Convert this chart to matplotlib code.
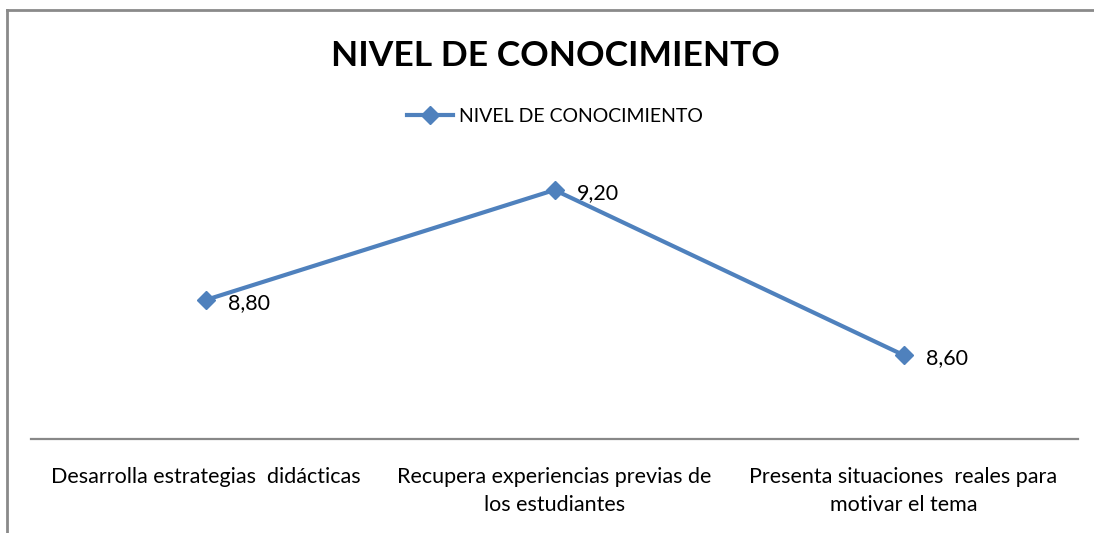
import matplotlib.pyplot as plt
from matplotlib.lines import Line2D

# Data
categories = ['Desarrolla estrategias  didácticas',
              'Recupera experiencias previas de\nlos estudiantes',
              'Presenta situaciones  reales para\nmotivar el tema']
values = [8.80, 9.20, 8.60]
series_name = 'NIVEL DE CONOCIMIENTO'

plt.rcParams['font.family'] = ['Lato', 'DejaVu Sans']

fig = plt.figure(figsize=(10.94, 5.33), dpi=100)
W, H = 1094, 533

# outer chart frame (top and left edges visible)
fig.add_artist(Line2D([7 / W, 7 / W], [0, 1 - 10 / H], transform=fig.transFigure,
                      color='#8a8a8a', lw=2))
fig.add_artist(Line2D([7 / W, 1], [1 - 10 / H, 1 - 10 / H], transform=fig.transFigure,
                      color='#8a8a8a', lw=2))

ax = fig.add_axes([31 / W, (H - 439) / H, (1078 - 31) / W, (439 - 160) / H])
x = range(len(values))
ax.plot(x, values, color='#4F81BD', lw=3.0, marker='D', markersize=9.5,
        label=series_name)

ax.set_xlim(-0.5, 2.5)
ax.set_ylim(8.295, 9.309)

for xi, v in zip(x, values):
    ax.annotate(f'{v:.2f}'.replace('.', ','), (xi, v), xytext=(16, -2),
                textcoords='offset points', ha='left', va='center', fontsize=15.5)

ax.set_xticks(list(x))
ax.set_xticklabels(categories, fontsize=15.5, linespacing=1.5, va='top')
ax.tick_params(axis='x', length=0, pad=20)
ax.set_yticks([])
for side in ['top', 'left', 'right']:
    ax.spines[side].set_visible(False)
ax.spines['bottom'].set_color('#888888')
ax.spines['bottom'].set_linewidth(1.6)

fig.text(555 / W, 1 - 56 / H, 'NIVEL DE CONOCIMIENTO', ha='center', va='center',
         fontsize=25.5, fontweight='bold')

fig.legend(handles=[Line2D([], [], color='#4F81BD', lw=3.0, marker='D', markersize=9.5)],
           labels=[series_name], loc='center', bbox_to_anchor=(555 / W, 1 - 116 / H),
           frameon=False, fontsize=14, handlelength=2.4, handletextpad=0.3)

fig.savefig('out.png', dpi=100)
